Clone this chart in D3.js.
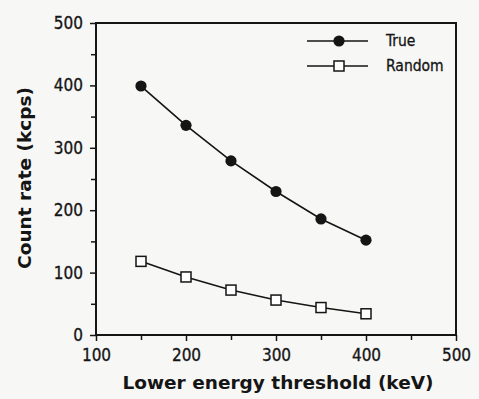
<!DOCTYPE html>
<html><head><meta charset="utf-8">
<script src="https://cdn.jsdelivr.net/npm/d3@7"></script>
<style>html,body{margin:0;padding:0;background:#f7f7f5;}svg{display:block;}</style>
</head><body>
<script>
const thresholds = [150, 200, 250, 300, 350, 400];
const trueRates = [399, 336, 279, 230, 186, 152];
const randomRates = [118, 93, 72, 56, 44, 34];
const xTicks = [100, 200, 300, 400, 500];
const xMinorTicks = [150, 250, 350, 450];
const yTicks = [0, 100, 200, 300, 400, 500];
const yMinorTicks = [50, 150, 250, 350, 450];
const seriesNames = ["True", "Random"];

const W = 479, H = 399;
const m = {l: 96, r: 23, t: 23, b: 64};
const svg = d3.select("body").append("svg").attr("width", W).attr("height", H);
svg.append("rect").attr("width", W).attr("height", H).attr("fill", "#f7f7f5");

const x = d3.scaleLinear().domain([100, 500]).range([m.l, W - m.r]);
const y = d3.scaleLinear().domain([0, 500]).range([H - m.b, m.t]);
const ink = "#151515";
const font = "'DejaVu Sans Condensed', 'DejaVu Sans', sans-serif";

// frame
svg.append("rect").attr("x", x(100)).attr("y", y(500)).attr("width", x(500) - x(100)).attr("height", y(0) - y(500))
  .attr("fill", "none").attr("stroke", ink).attr("stroke-width", 2);

svg.append("g").attr("transform", `translate(0,${y(0)})`)
  .call(d3.axisBottom(x).tickValues(xTicks).tickSize(6).tickPadding(8).tickFormat(d3.format("d")));
svg.append("g").attr("transform", `translate(0,${y(0)})`)
  .call(d3.axisBottom(x).tickValues(xMinorTicks).tickSize(5).tickFormat(""));
svg.append("g").attr("transform", `translate(${x(100)},0)`)
  .call(d3.axisLeft(y).tickValues(yTicks).tickSize(6).tickPadding(7).tickFormat(d3.format("d")));
svg.append("g").attr("transform", `translate(${x(100)},0)`)
  .call(d3.axisLeft(y).tickValues(yMinorTicks).tickSize(5).tickFormat(""));
svg.selectAll(".domain").remove();
svg.selectAll(".tick line").attr("stroke", ink).attr("stroke-width", 1.5);
svg.selectAll(".tick text").attr("fill", ink).attr("stroke", ink).attr("stroke-width", 0.3)
  .style("font-family", font).style("font-size", "17px");

// axis titles
svg.append("text").attr("x", 278).attr("y", 389).attr("text-anchor", "middle")
  .style("font-family", "'DejaVu Sans', sans-serif").style("font-weight", "bold").style("font-size", "18.5px")
  .attr("fill", ink).text("Lower energy threshold (keV)");
svg.append("text").attr("transform", "translate(31,178) rotate(-90)").attr("text-anchor", "middle")
  .style("font-family", "'DejaVu Sans', sans-serif").style("font-weight", "bold").style("font-size", "18.5px")
  .attr("fill", ink).text("Count rate (kcps)");

const line = d3.line().x((d, i) => x(thresholds[i])).y(d => y(d));
svg.append("path").datum(trueRates).attr("d", line).attr("fill", "none").attr("stroke", ink).attr("stroke-width", 1.6);
svg.append("path").datum(randomRates).attr("d", line).attr("fill", "none").attr("stroke", ink).attr("stroke-width", 1.6);

svg.selectAll(".pt-true").data(trueRates).enter().append("circle")
  .attr("cx", (d, i) => x(thresholds[i])).attr("cy", d => y(d)).attr("r", 5.6).attr("fill", ink);
svg.selectAll(".pt-rand").data(randomRates).enter().append("rect")
  .attr("x", (d, i) => x(thresholds[i]) - 5).attr("y", d => y(d) - 5).attr("width", 10).attr("height", 10)
  .attr("fill", "#fff").attr("stroke", ink).attr("stroke-width", 1.5);

// legend
const lg = svg.append("g");
[41, 66].forEach((ly, k) => {
  lg.append("line").attr("x1", 307).attr("x2", 368).attr("y1", ly).attr("y2", ly).attr("stroke", ink).attr("stroke-width", 1.6);
  if (k === 0) lg.append("circle").attr("cx", 339).attr("cy", ly).attr("r", 5.6).attr("fill", ink);
  else lg.append("rect").attr("x", 334).attr("y", ly - 5).attr("width", 10).attr("height", 10).attr("fill", "#fff").attr("stroke", ink).attr("stroke-width", 1.5);
  lg.append("text").attr("x", 386).attr("y", ly + 5).style("font-family", font).style("font-size", "15.5px")
    .attr("fill", ink).attr("stroke", ink).attr("stroke-width", 0.3).text(seriesNames[k]);
});
</script>
</body></html>
